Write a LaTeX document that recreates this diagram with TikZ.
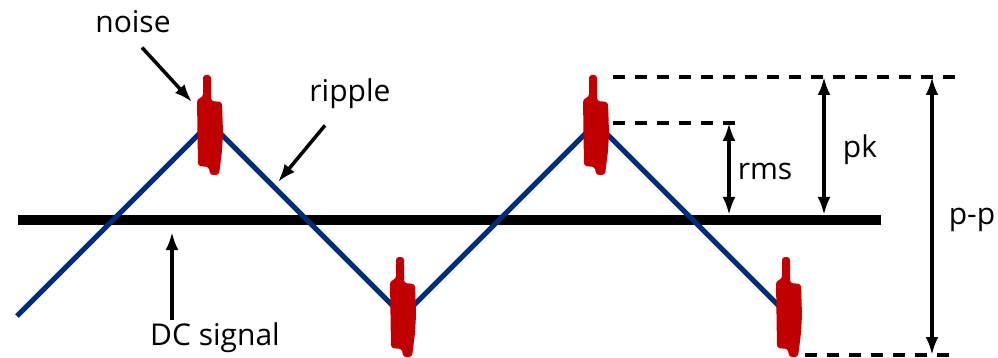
\documentclass[tikz,border=0pt]{standalone}
\usepackage{fontspec}
\setmainfont{Open Sans}
\usetikzlibrary{arrows.meta}
\definecolor{wavecol}{RGB}{0,45,122}
\definecolor{noisecol}{RGB}{192,0,0}
\tikzset{
  lbl/.style={inner sep=2pt, anchor=base, font=\fontsize{30}{34}\selectfont},
  ptr/.style={line width=3.5pt, -{Latex[length=18pt,width=13pt]}},
  dim/.style={line width=3.5pt, {Latex[length=18pt,width=13pt]}-{Latex[length=18pt,width=13pt]}},
  dashline/.style={line width=3.5pt, dash pattern=on 12pt off 10pt},
  dcline/.style={line width=10pt},
  wave/.style={wavecol, line width=5pt},
  noise/.pic={
    \fill[noisecol, rounded corners=3pt] (-7,-48) -- (1,-48) -- (1,-22) -- (12,-21)
      -- (13,10) -- (12,28) -- (9,52) -- (0,52) -- (-1,44) -- (-12,43)
      -- (-13,-24) -- (-7,-26) -- cycle;
  }
}
\begin{document}
\begin{tikzpicture}[x=1pt,y=-1pt]
  \useasboundingbox (0,0) rectangle (998,358);

  % DC level and ripple
  \coordinate (dcl) at (18,220);
  \coordinate (dcr) at (881,220);
  \draw[dcline] (dcl) -- (dcr);

  \coordinate (w0) at (17,316);
  \coordinate (pk1) at (210,123);
  \coordinate (tr1) at (403,316);
  \coordinate (pk2) at (596,123);
  \coordinate (tr2) at (789,316);
  \draw[wave] (w0) -- (pk1) -- (tr1) -- (pk2) -- (tr2);

  % noise bursts
  \pic at (pk1) {noise};
  \pic at (403,305) {noise};
  \pic at (pk2) {noise};
  \pic at (789,305) {noise};

  % reference levels
  \coordinate (topl) at (613,77);
  \coordinate (topr) at (960,77);
  \coordinate (rmsl) at (613,123);
  \coordinate (rmsr) at (738,123);
  \coordinate (botl) at (805,355);
  \coordinate (botr) at (956,355);
  \draw[dashline] (topl) -- (topr);
  \draw[dashline] (rmsl) -- (rmsr);
  \draw[dashline] (botl) -- (botr);

  \coordinate (rmsa) at (729,123);
  \coordinate (rmsb) at (729,215);
  \coordinate (pka) at (824,77);
  \coordinate (pkb) at (824,215);
  \coordinate (ppa) at (932,77);
  \coordinate (ppb) at (932,355);
  \draw[dim] (rmsa) -- (rmsb);
  \draw[dim] (pka) -- (pkb);
  \draw[dim] (ppa) -- (ppb);
  \node[lbl] (rms) at (765,180) {rms};
  \node[lbl] (pk) at (860,158) {pk};
  \node[lbl] (pp) at (972,225) {p-p};

  % labels with pointers
  \node[lbl] (noise) at (133,33) {noise};
  \node[lbl] (ripple) at (350,102) {ripple};
  \node[lbl] (dc) at (215,345) {DC signal};
  \coordinate (noisetip) at (192,102);
  \coordinate (rippletip) at (278,182);
  \coordinate (dctip) at (172,232);
  \draw[ptr] ([xshift=9pt,yshift=-12pt]noise.south) -- (noisetip);
  \draw[ptr] ([xshift=-25pt,yshift=-14pt]ripple.south) -- (rippletip);
  \draw[ptr] (dctip |- dc.north) -- (dctip);
\end{tikzpicture}
\end{document}
